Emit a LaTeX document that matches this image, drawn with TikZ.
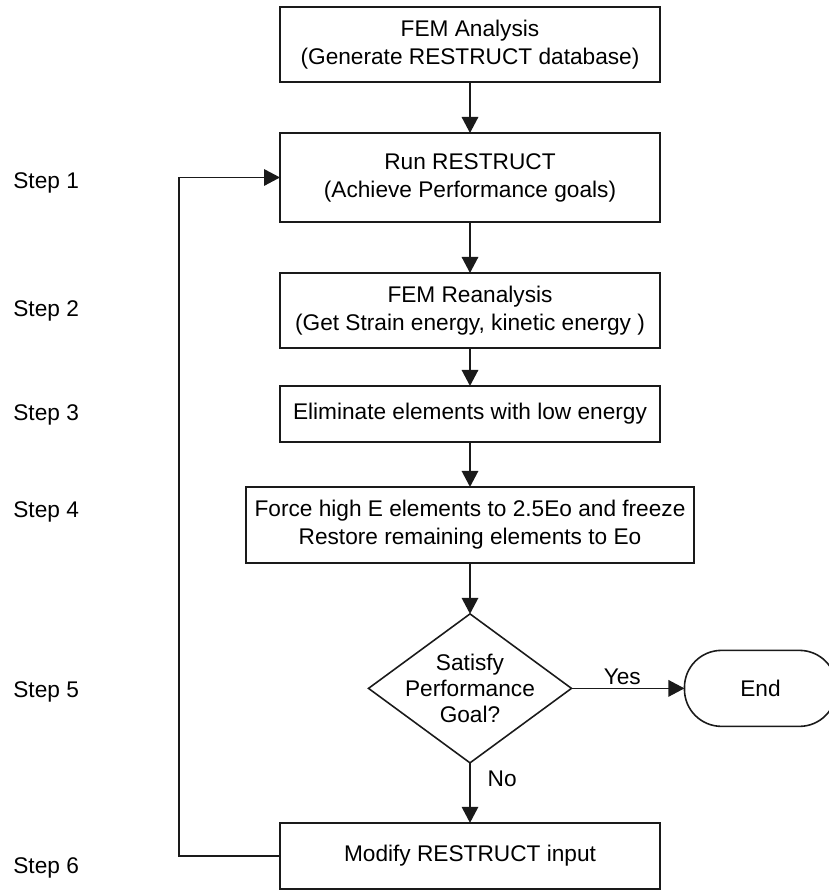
\documentclass[tikz,border=0pt]{standalone}
\usepackage{fontspec}
\setmainfont{Liberation Sans}
\usepackage{tikz}
\usetikzlibrary{positioning,arrows.meta,shapes.geometric}
\definecolor{clinea}{HTML}{1A1A1A}
\newcommand{\cz}[1]{\makebox[0pt]{#1}}
\tikzset{
  caja/.style={rectangle, draw=clinea, line width=0.9pt, minimum width=7.6cm,
    align=center, inner sep=0pt, outer sep=0pt, font=\fontsize{12.9}{15.9}\selectfont},
  cajaf/.style={caja, minimum width=8.96cm},
  decision/.style={diamond, draw=clinea, line width=0.9pt, aspect=1.362,
    minimum width=4.06cm, minimum height=2.98cm, inner sep=0pt, outer sep=0pt,
    align=center, font=\fontsize{12.9}{14.8}\selectfont},
  fin/.style={rectangle, rounded corners=0.74cm, draw=clinea, line width=0.9pt,
    minimum width=3.04cm, minimum height=1.52cm, outer sep=0pt,
    font=\fontsize{12.9}{15.9}\selectfont},
  flecha/.style={-{Triangle[length=3.2mm,width=3.3mm]}, line width=0.9pt, draw=clinea},
  etq/.style={font=\fontsize{12.9}{15.9}\selectfont, text=black},
}
\begin{document}
\begin{tikzpicture}[x=0.02cm, y=-0.02cm]
  \useasboundingbox (0,0) rectangle (829,890);
  \node[caja, minimum height=1.5cm] (fem) at (470,44.5) {FEM Analysis\\(Generate RESTRUCT database)};
  \node[caja, below=1.02cm of fem, minimum height=1.78cm] (run) {Run RESTRUCT\\(Achieve Performance goals)};
  \node[caja, below=1.02cm of run, minimum height=1.5cm] (rean) {FEM Reanalysis\\(Get Strain energy, kinetic energy )};
  \node[caja, below=0.76cm of rean, minimum height=1.12cm] (elim) {Eliminate elements with low energy};
  \node[cajaf, below=0.9cm of elim, minimum height=1.52cm] (force) {Force high E elements to 2.5Eo and freeze\\Restore remaining elements to Eo};
  \node[decision, below=1.02cm of force] (goal) {\cz{Satisfy}\\\cz{Performance}\\\cz{Goal?}};
  \node[fin, right=2.26cm of goal] (end) {End};
  \node[caja, below=1.2cm of goal, minimum height=1.32cm] (mod) {Modify RESTRUCT input};
  % pasos
  \foreach \n/\yy in {1/183,2/311,3/415,4/512,5/692,6/868}
    \node[etq, anchor=west, inner sep=0pt] (paso\n) at (13,\yy) {Step \n};
  \draw[flecha] (fem) -- (run);
  \draw[flecha] (run) -- (rean);
  \draw[flecha] (rean) -- (elim);
  \draw[flecha] (elim) -- (force);
  \draw[flecha] (force) -- (goal);
  \draw[flecha] (goal) -- (end) node[pos=0.45, above, inner sep=1.5pt, etq]{Yes};
  \draw[flecha] (goal) -- (mod) node[pos=0.27, right=0.22cm, etq]{No};
  \draw[flecha] (mod.west) -- ++(-101,0) |- (run.west);
\end{tikzpicture}
\end{document}
